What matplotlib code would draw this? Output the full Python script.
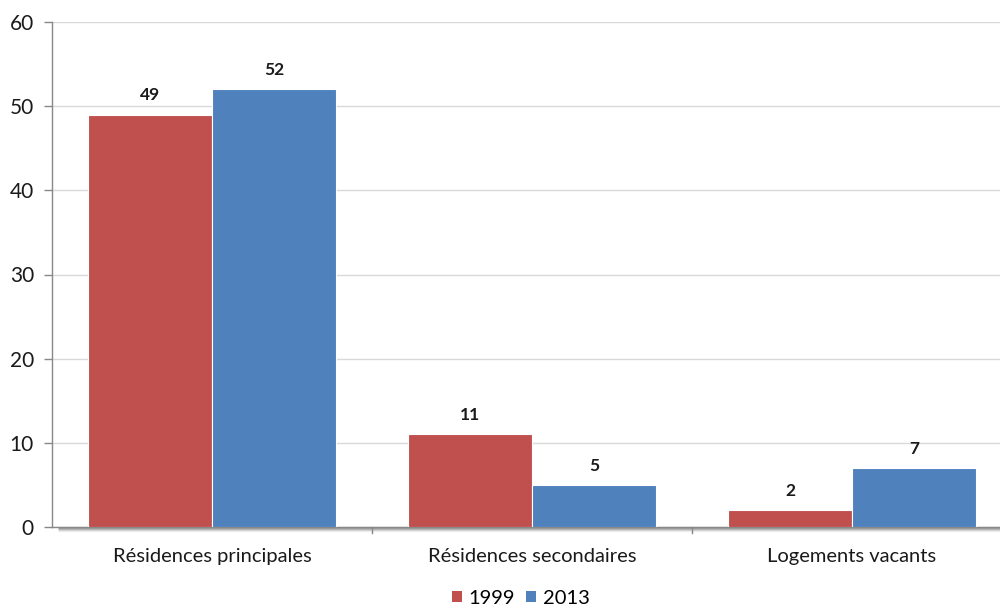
import matplotlib
matplotlib.use("Agg")
import matplotlib.pyplot as plt
import numpy as np
from matplotlib.patches import Patch

categories = ["Résidences principales", "Résidences secondaires", "Logements vacants"]
series_names = ["1999", "2013"]
values_1999 = [49, 11, 2]
values_2013 = [52, 5, 7]
y_ticks = [0, 10, 20, 30, 40, 50, 60]

red = "#C0504D"
blue = "#4F81BD"

plt.rcParams["font.family"] = ["Lato", "DejaVu Sans"]

fig = plt.figure(figsize=(10, 6.05), dpi=100)
# axes spans 52..1012 px horizontally, 22..527 px vertically
ax = fig.add_axes([0.052, 1 - 527 / 605, 0.96, (527 - 22) / 605])

x = np.arange(len(categories))
w = 0.3875
b1 = ax.bar(x - w / 2, values_1999, w, color=red, edgecolor="white", linewidth=0.8, zorder=3)
b2 = ax.bar(x + w / 2, values_2013, w, color=blue, edgecolor="white", linewidth=0.8, zorder=3)

for bars, vals in ((b1, values_1999), (b2, values_2013)):
    for rect, v in zip(bars, vals):
        ax.annotate(str(v), (rect.get_x() + rect.get_width() / 2, v),
                    xytext=(0, 8), textcoords="offset points",
                    ha="center", va="bottom", fontsize=12.5, fontweight="bold",
                    color="#1a1a1a")

ax.set_xlim(-0.5, 2.5)
ax.set_ylim(0, 60)
ax.set_yticks(y_ticks)
ax.set_yticklabels([str(t) for t in y_ticks], fontsize=15, color="#1a1a1a")
ax.yaxis.grid(True, color="#D9D9D9", linewidth=1.0, zorder=0)
ax.set_axisbelow(True)

ax.set_xticks(x)
ax.set_xticklabels(categories, fontsize=14.5, color="#1a1a1a")
ax.tick_params(axis="x", length=0, pad=15)
# small ticks at category boundaries
for bx in [0.5, 1.5]:
    ax.plot([bx, bx], [0, -0.7], color="#888888", linewidth=1, clip_on=False, zorder=4)
ax.tick_params(axis="y", length=6, width=1, color="#888888", pad=7)

for s in ["top", "right"]:
    ax.spines[s].set_visible(False)
ax.spines["left"].set_color("#888888")
ax.spines["bottom"].set_color("#888888")
ax.spines["left"].set_linewidth(1)
ax.spines["bottom"].set_linewidth(1)

# soft shadow under the baseline
for i, a in enumerate([0.35, 0.22, 0.12, 0.05]):
    ax.plot([-0.48, 2.5], [-0.12 * (i + 1)] * 2, color="black", alpha=a,
            linewidth=1, clip_on=False, zorder=2, solid_capstyle="butt")

handles = [Patch(facecolor=red, edgecolor="none"), Patch(facecolor=blue, edgecolor="none")]
fig.legend(handles, series_names, loc="center", bbox_to_anchor=(0.521, 1 - 598 / 605),
           ncol=2, frameon=False, fontsize=14.5, handlelength=0.5, handleheight=0.5,
           handletextpad=0.35, columnspacing=0.55)

fig.savefig("out.png", dpi=100)
